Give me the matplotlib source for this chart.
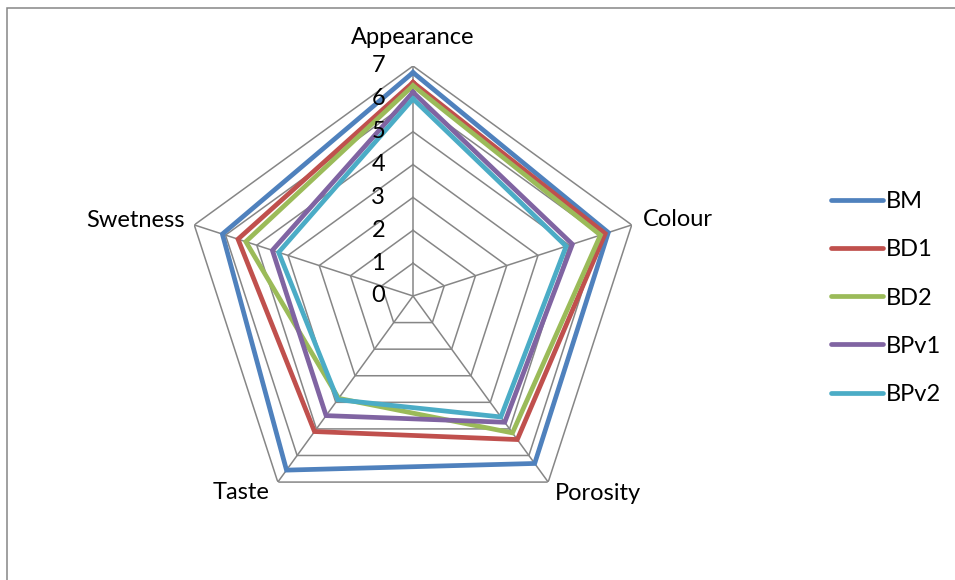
import numpy as np
import matplotlib
matplotlib.use("Agg")
import matplotlib.pyplot as plt
from matplotlib.transforms import offset_copy
from matplotlib.patches import Rectangle

categories = ["Appearance", "Colour", "Porosity", "Taste", "Swetness"]
series_names = ["BM", "BD1", "BD2", "BPv1", "BPv2"]
BM = [6.8, 6.25, 6.3, 6.55, 6.1]
BD1 = [6.5, 6.15, 5.4, 5.1, 5.6]
BD2 = [6.4, 6.0, 5.15, 3.85, 5.35]
BPv1 = [6.2, 5.1, 4.75, 4.5, 4.5]
BPv2 = [6.0, 4.9, 4.55, 3.9, 4.3]
series_values = [BM, BD1, BD2, BPv1, BPv2]
colors = ["#4F81BD", "#C0504D", "#9BBB59", "#8064A2", "#4BACC6"]
ticks = [0, 1, 2, 3, 4, 5, 6, 7]

plt.rcParams['font.family'] = ['Lato', 'DejaVu Sans']
FS = 17
W, H = 955, 580
fig = plt.figure(figsize=(W / 100, H / 100), dpi=100)

# border
fig.patches.append(Rectangle((7 / W, -0.1), 1.2, (H - 8) / H + 0.1,
                             transform=fig.transFigure, fill=False,
                             edgecolor="#868686", linewidth=1.1))

cx, cy, R = 413, 296, 230
ax = fig.add_axes([(cx - R) / W, 1 - (cy + R) / H, 2 * R / W, 2 * R / H],
                  projection="polar")
ax.set_theta_offset(np.pi / 2)
ax.set_theta_direction(-1)
ax.set_ylim(0, 7)
ax.set_xticks([])
ax.set_yticks([])
ax.grid(False)
ax.spines['polar'].set_visible(False)
ax.patch.set_visible(False)

n = len(categories)
theta = np.linspace(0, 2 * np.pi, n, endpoint=False)
theta_c = np.concatenate([theta, theta[:1]])
gray = "#868686"

for t in ticks[1:]:
    ax.plot(theta_c, [t] * (n + 1), color=gray, lw=1.1, zorder=1)
for th in theta:
    ax.plot([th, th], [0, ticks[-1]], color=gray, lw=1.1, zorder=1)

lines = []
for name, vals, c in zip(series_names, series_values, colors):
    v = list(vals) + [vals[0]]
    ln, = ax.plot(theta_c, v, color=c, lw=3.4, label=name, zorder=3,
                  solid_joinstyle='miter')
    lines.append(ln)

# radial tick labels
tr = offset_copy(ax.transData, fig=fig, x=-28, y=0, units='dots')
for t in ticks:
    ax.text(0, t, str(t), transform=tr, ha='right', va='center',
            fontsize=FS, color='black', zorder=5)

# category labels
offsets = [(0, 28, 'center', 'center'),
           (11, 5, 'left', 'center'),
           (7, -11, 'left', 'center'),
           (-8, -10, 'right', 'center'),
           (-10, 4, 'right', 'center')]
for th, lab, (dx, dy, ha, va) in zip(theta, categories, offsets):
    t2 = offset_copy(ax.transData, fig=fig, x=dx, y=dy, units='dots')
    ax.text(th, ticks[-1], lab, transform=t2, ha=ha, va=va, fontsize=FS)

leg = fig.legend(handles=lines, labels=series_names, loc='upper left',
                 bbox_to_anchor=(810 / W, 1 - 170 / H), frameon=False,
                 fontsize=FS, handlelength=2.2, handletextpad=0.12,
                 labelspacing=1.15)
for h in leg.get_lines():
    h.set_solid_capstyle('round')

fig.savefig("out.png", dpi=100)
